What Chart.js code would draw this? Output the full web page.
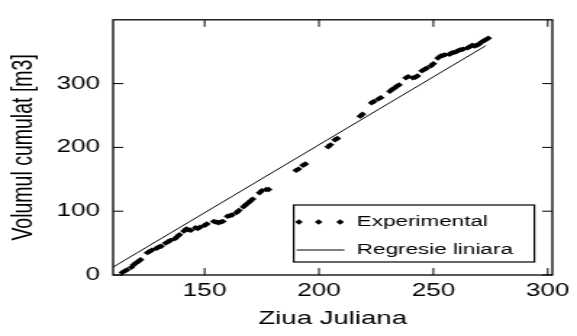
<!DOCTYPE html>
<html>
<head>
<meta charset="utf-8">
<script src="https://cdn.jsdelivr.net/npm/chart.js@4/dist/chart.umd.min.js"></script>
<style>
  html, body { margin: 0; padding: 0; background: #fff; }
  #c { display: block; }
</style>
</head>
<body>
<!-- the original picture is stretched sideways, so the canvas is drawn narrow and widened by css -->
<canvas id="c" width="398" height="336" style="width:577px;height:336px"></canvas>
<script>
var dayExp = [114, 115, 116, 118, 119, 120, 121, 122,
  125, 126, 127, 129, 130, 131, 133, 134, 135, 137, 138, 139, 141, 142,
  143, 144, 146, 147, 148, 150, 151, 154, 155, 156, 157, 158, 160,
  161, 162, 164, 165, 167, 168, 169, 170, 171, 174, 175, 177, 178,
  190, 191, 193, 194,
  204, 205, 207, 208,
  218, 219,
  223, 224, 226, 227,
  231, 232, 233, 234, 235,
  238, 239, 241, 242, 243,
  245, 246, 247, 249, 250,
  252, 253, 254, 255, 257, 258, 259, 260, 261, 262, 263,
  265, 266, 267, 268, 269, 270, 271, 272, 273, 274];
var volExp = [4, 6, 8, 12, 16, 19, 21, 24,
  35, 37, 39, 42, 44, 45, 50, 52, 54, 57, 60, 63, 69, 72,
  71, 70, 74, 73, 75, 78, 80, 84, 83, 82, 83, 84, 92,
  93, 94, 98, 101, 107, 110, 113, 116, 119, 129, 132, 134, 134,
  164, 166, 172, 174,
  201, 204, 212, 214,
  249, 252,
  270, 272, 276, 278,
  288, 291, 293, 296, 298,
  309, 311, 309, 310, 312,
  320, 322, 324, 328, 331,
  340, 343, 344, 345, 346, 348, 349, 350, 352, 353, 354,
  356, 358, 360, 359, 360, 362, 365, 367, 369, 371];

var dayReg = [110, 273];
var volReg = [12.4, 359.6];

var xTicks = [150, 200, 250, 300];
var yTicks = [0, 100, 200, 300];
var seriesNames = ['Experimental', 'Regresie liniara'];

var FONT = "'Liberation Sans', Arial, sans-serif";

function toPoints(xs, ys) {
  var pts = [];
  for (var i = 0; i < xs.length; i++) {
    pts.push({x: xs[i], y: ys[i]});
  }
  return pts;
}

// matlab style box with inward ticks on all four sides
var boxPlugin = {
  id: 'matlabBox',
  afterDatasetsDraw: function(chart) {
    var ctx = chart.ctx;
    var a = chart.chartArea;
    var xs = chart.scales.x, ys = chart.scales.y;
    var tl = 7;
    ctx.save();
    ctx.strokeStyle = '#000';
    ctx.lineWidth = 1.3;
    ctx.strokeRect(a.left, a.top, a.right - a.left, a.bottom - a.top);
    ctx.lineWidth = 1;
    ctx.beginPath();
    xs.ticks.forEach(function(t) {
      var px = xs.getPixelForValue(t.value);
      ctx.moveTo(px, a.bottom); ctx.lineTo(px, a.bottom - tl);
      ctx.moveTo(px, a.top); ctx.lineTo(px, a.top + tl);
    });
    ys.ticks.forEach(function(t) {
      var py = ys.getPixelForValue(t.value);
      ctx.moveTo(a.left, py); ctx.lineTo(a.left + tl, py);
      ctx.moveTo(a.right, py); ctx.lineTo(a.right - tl, py);
    });
    ctx.stroke();
    ctx.restore();
  }
};

// legend box in the lower right corner, like matlab 'SouthEast'
var legendPlugin = {
  id: 'boxLegend',
  afterDatasetsDraw: function(chart) {
    var ctx = chart.ctx;
    var a = chart.chartArea;
    var w = 166, h = 57;
    var right = a.right - 12.4, bottom = a.bottom - 13;
    var left = right - w, top = bottom - h;
    ctx.save();
    ctx.fillStyle = '#fff';
    ctx.fillRect(left, top, w, h);
    ctx.strokeStyle = '#000';
    ctx.lineWidth = 1.2;
    ctx.strokeRect(left, top, w, h);

    var ds = chart.data.datasets;
    var y1 = top + 17, y2 = top + 45;
    // markers
    ctx.fillStyle = ds[0].pointBackgroundColor;
    [3.6, 17.2, 32].forEach(function(dx) {
      var r = ds[0].pointRadius;
      var cx = left + dx;
      ctx.beginPath();
      ctx.moveTo(cx, y1 - r); ctx.lineTo(cx + r, y1);
      ctx.lineTo(cx, y1 + r); ctx.lineTo(cx - r, y1);
      ctx.closePath();
      ctx.fill();
    });
    // line sample
    ctx.strokeStyle = ds[1].borderColor;
    ctx.lineWidth = ds[1].borderWidth;
    ctx.beginPath();
    ctx.moveTo(left + 2, y2); ctx.lineTo(left + 35, y2);
    ctx.stroke();

    ctx.fillStyle = '#000';
    ctx.font = '15.5px ' + FONT;
    ctx.textBaseline = 'middle';
    ctx.textAlign = 'left';
    ctx.fillText(ds[0].label, left + 43.5, y1);
    ctx.fillText(ds[1].label, left + 43.5, y2);
    ctx.restore();
  }
};

var chart = new Chart(document.getElementById('c'), {
  type: 'scatter',
  data: {
    datasets: [{
      label: seriesNames[0],
      data: toPoints(dayExp, volExp),
      pointStyle: 'rectRot',
      pointRadius: 2.7,
      pointBackgroundColor: '#000',
      pointBorderColor: '#000',
      pointBorderWidth: 0,
      showLine: false
    }, {
      label: seriesNames[1],
      data: toPoints(dayReg, volReg),
      showLine: true,
      borderColor: '#000',
      borderWidth: 1,
      pointRadius: 0,
      fill: false
    }]
  },
  options: {
    responsive: false,
    animation: false,
    devicePixelRatio: 1,
    layout: { padding: { top: 16, right: 15, left: 0, bottom: 0 } },
    plugins: {
      legend: { display: false },
      tooltip: { enabled: false }
    },
    scales: {
      x: {
        type: 'linear',
        min: 110,
        max: 302,
        afterBuildTicks: function(scale) {
          scale.ticks = xTicks.map(function(v) { return {value: v}; });
        },
        afterFit: function(scale) { scale.height = 61; },
        grid: { display: false, drawTicks: false },
        border: { display: false },
        ticks: { color: '#000', padding: 5, font: { family: FONT, size: 18 } },
        title: {
          display: true,
          text: 'Ziua Juliana',
          color: '#000',
          padding: { top: 0, bottom: 6 },
          font: { family: FONT, size: 19 }
        }
      },
      y: {
        type: 'linear',
        min: 0,
        max: 400,
        afterBuildTicks: function(scale) {
          scale.ticks = yTicks.map(function(v) { return {value: v}; });
        },
        afterFit: function(scale) { scale.width = 78; },
        grid: { display: false, drawTicks: false },
        border: { display: false },
        ticks: { color: '#000', padding: 9, font: { family: FONT, size: 18 } },
        title: {
          display: true,
          text: 'Volumul cumulat [m3]',
          color: '#000',
          padding: { top: 5, bottom: 0 },
          font: { family: FONT, size: 19.5 }
        }
      }
    }
  },
  plugins: [boxPlugin, legendPlugin]
});
</script>
</body>
</html>
